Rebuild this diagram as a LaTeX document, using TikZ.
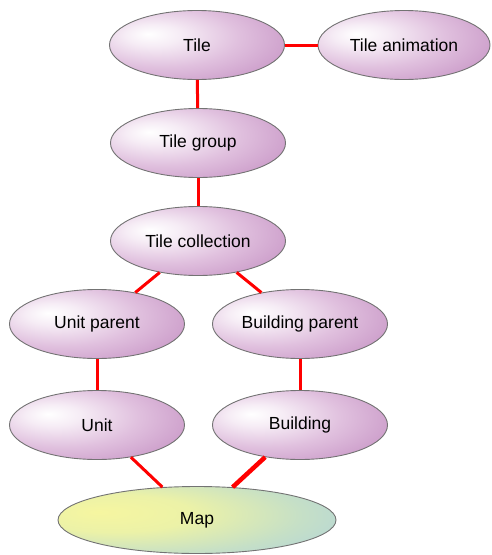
\documentclass[tikz,border=0pt]{standalone}
\usepackage{fontspec}
\setmainfont{Liberation Sans}
\usetikzlibrary{shapes.geometric}
\definecolor{pinkmid}{HTML}{E0C0DE}
\definecolor{pinkdark}{HTML}{C088BE}
\definecolor{mapyel}{HTML}{F6F6A0}
\definecolor{mapgreen}{HTML}{D4E8B8}
\definecolor{mapblue}{HTML}{A4CCE8}
\definecolor{linkred}{HTML}{FF0000}
\pgfdeclareradialshading{pinkball}{\pgfpoint{-14bp}{8bp}}{color(0bp)=(white); color(8bp)=(white!70!pinkmid); color(22bp)=(pinkmid); color(44bp)=(pinkdark); color(80bp)=(pinkdark)}
\pgfdeclareradialshading{mapball}{\pgfpoint{-18bp}{6bp}}{color(0bp)=(mapyel); color(14bp)=(mapyel!70!mapgreen); color(30bp)=(mapgreen!70!mapblue); color(50bp)=(mapblue); color(80bp)=(mapblue)}
\begin{document}
\begin{tikzpicture}[x=1pt,y=-1pt,
  blob/.style={ellipse, draw=gray!90!black, line width=0.9pt, shading=pinkball,
    minimum width=175pt, minimum height=69pt, inner sep=0pt, font=\fontsize{17.5}{20}\selectfont},
  mapblob/.style={blob, shading=mapball, minimum width=278pt, minimum height=67pt},
  link/.style={draw=linkred, line width=3pt},
  thicklink/.style={draw=linkred, line width=4.5pt}]
\useasboundingbox (0,0) rectangle (491,555);
\node[blob] (tile) at (197,45) {Tile};
\node[blob, minimum width=172pt] (anim) at (404,45) {Tile animation};
\node[blob] (group) at (198,143) {Tile group};
\node[blob] (coll) at (198,241) {Tile collection};
\node[blob] (up) at (97,324) {Unit parent};
\node[blob] (bp) at (300,324) {Building parent};
\node[blob] (unit) at (97,425) {Unit};
\node[blob] (bld) at (300,425) {Building};
\node[mapblob] (map) at (197,520) {Map};
\draw[link] (tile) -- (anim);
\draw[link] (tile) -- (group);
\draw[link] (group) -- (coll);
\draw[link] (coll) -- (up);
\draw[link] (coll) -- (bp);
\draw[link] (up) -- (unit);
\draw[link] (bp) -- (bld);
\draw[link] (unit) -- (map);
\draw[thicklink] (bld) -- (map);
\end{tikzpicture}
\end{document}
